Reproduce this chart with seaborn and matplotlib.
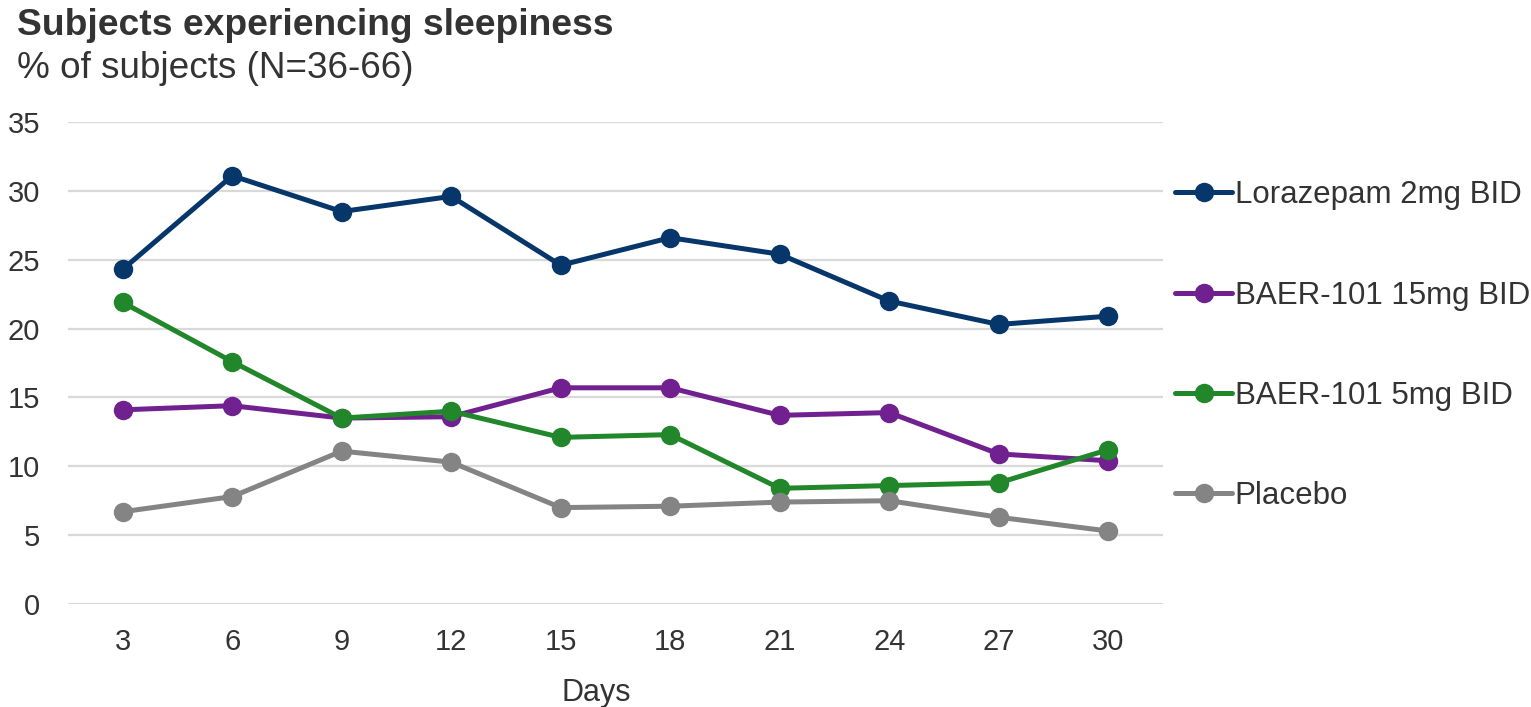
import pandas as pd
import matplotlib
matplotlib.use("Agg")
import matplotlib.pyplot as plt
import seaborn as sns

# Data
days = [3, 6, 9, 12, 15, 18, 21, 24, 27, 30]
lorazepam = [24.3, 31.1, 28.5, 29.6, 24.6, 26.6, 25.4, 22.0, 20.3, 20.9]
baer_15mg = [14.1, 14.4, 13.5, 13.6, 15.7, 15.7, 13.7, 13.9, 10.9, 10.4]
baer_5mg = [21.9, 17.6, 13.5, 14.0, 12.1, 12.3, 8.4, 8.6, 8.8, 11.2]
placebo = [6.7, 7.8, 11.1, 10.3, 7.0, 7.1, 7.4, 7.5, 6.3, 5.3]

series_names = ["Lorazepam 2mg BID", "BAER-101 15mg BID", "BAER-101 5mg BID", "Placebo"]
series_colors = ["#06366A", "#71208F", "#22862A", "#848484"]

df = pd.DataFrame({
    "Days": days * 4,
    "pct": lorazepam + baer_15mg + baer_5mg + placebo,
    "group": [n for n in series_names for _ in days],
})

sns.set_theme(style="white")
plt.rcParams["font.family"] = ["Liberation Sans", "DejaVu Sans"]

fig = plt.figure(figsize=(15.31, 7.07), dpi=100)
ax = fig.add_axes([0.0444, 0.1457, 0.7152, 0.6817])

sns.lineplot(data=df, x="Days", y="pct", hue="group", hue_order=series_names,
             palette=series_colors, marker="o", markersize=14, linewidth=3.6,
             markeredgewidth=0, ax=ax, zorder=3)

ax.set_xlim(1.5, 31.5)
ax.set_ylim(0, 35)
ax.set_xticks(days)
ax.set_yticks(range(0, 36, 5))
ax.yaxis.grid(True, color="#D9D9D9", linewidth=1.6)
ax.set_axisbelow(True)
sns.despine(ax=ax, left=True, bottom=True)
ax.tick_params(axis="both", length=0, labelsize=21, colors="#333333")
ax.tick_params(axis="y", pad=20)
ax.tick_params(axis="x", pad=17)
ax.set_xlabel("Days", fontsize=22, color="#333333")
ax.xaxis.set_label_coords(0.482, -0.153)
ax.set_ylabel("")

leg = ax.legend(loc="upper left", bbox_to_anchor=(1.0, 0.905), frameon=False,
                fontsize=22.5, handlelength=1.8, handletextpad=0.1,
                labelspacing=2.25, borderaxespad=0.0)
for t in leg.get_texts():
    t.set_color("#333333")

fig.text(0.011, 0.9505, "Subjects experiencing sleepiness", fontsize=26.8,
         fontweight="bold", color="#333333", va="baseline")
fig.text(0.011, 0.8897, "% of subjects (N=36-66)", fontsize=26.6,
         color="#333333", va="baseline")

fig.savefig("out.png", dpi=100)
